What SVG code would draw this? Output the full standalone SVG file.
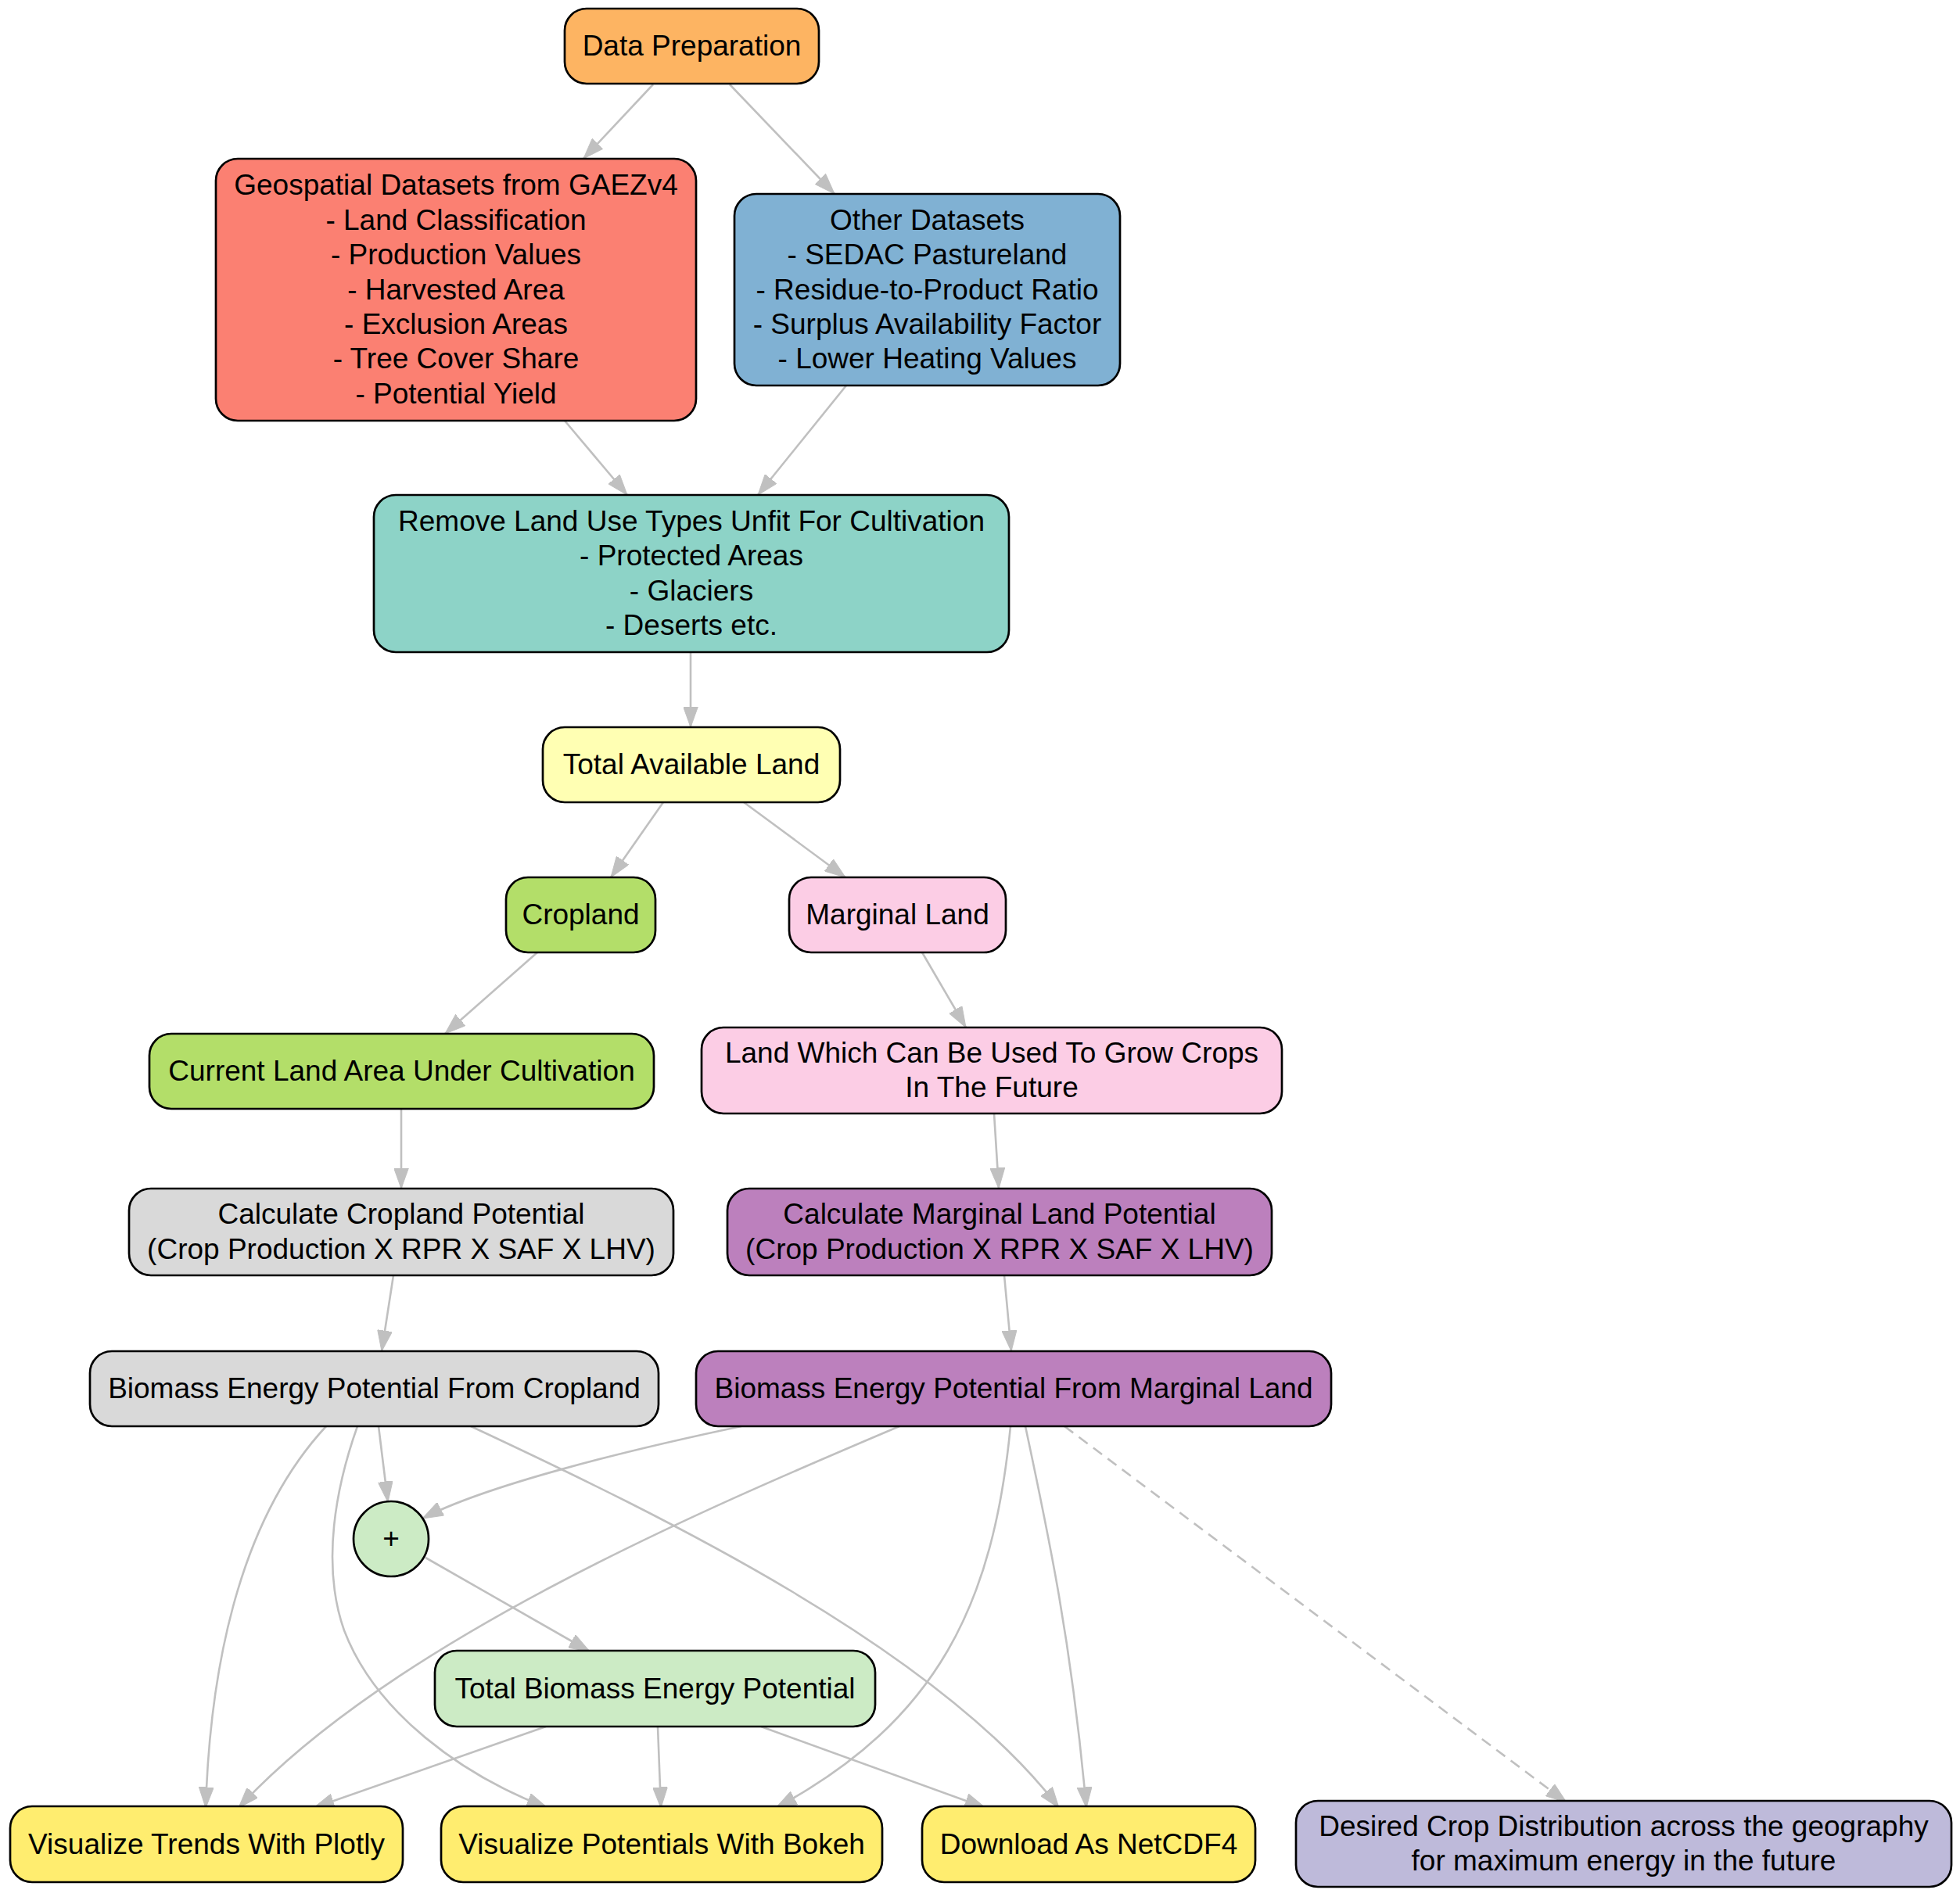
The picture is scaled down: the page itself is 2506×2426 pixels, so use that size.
<svg xmlns="http://www.w3.org/2000/svg" width="2506" height="2426" viewBox="0 0 2506 2426">
<style>
.n{stroke:#000;stroke-width:2.7}
text{font-family:"Liberation Sans",Arial,Helvetica,sans-serif;font-size:37px;fill:#000;text-anchor:middle}
.e{fill:none;stroke:#c0c0c0;stroke-width:2.6;marker-end:url(#ah)}
.d{stroke-dasharray:14,9}
</style>
<defs>
<marker id="ah" markerUnits="userSpaceOnUse" viewBox="0 0 27 19" refX="26.5" refY="9.5" markerWidth="27" markerHeight="19" orient="auto">
<path d="M0,0 L26.5,9.5 L0,19 z" fill="#c0c0c0" stroke="#c0c0c0" stroke-width="1"/>
</marker>
</defs>
<rect width="2506" height="2426" fill="#fff"/>
<g id="edges">
<path class="e" d="M835,108 L746,203"/>
<path class="e" d="M933,108 L1067,248"/>
<path class="e" d="M722,538 L802,633"/>
<path class="e" d="M1082,493 L969,633"/>
<path class="e" d="M883,834 L883,930"/>
<path class="e" d="M848,1026 L781,1122"/>
<path class="e" d="M951,1026 L1081,1122"/>
<path class="e" d="M687,1218 L569,1322"/>
<path class="e" d="M1179,1218 L1235,1314"/>
<path class="e" d="M513,1418 L513,1520"/>
<path class="e" d="M1271,1424 L1277,1520"/>
<path class="e" d="M503,1631 L488,1728"/>
<path class="e" d="M1284,1631 L1293,1728"/>
<path class="e" d="M417,1824 C300,1950 268,2150 263,2312"/>
<path class="e" d="M457,1824 C430,1900 410,2000 440,2085 C480,2190 590,2270 700,2312"/>
<path class="e" d="M484,1824 L496,1921"/>
<path class="e" d="M602,1824 C850,1940 1200,2110 1354,2312"/>
<path class="e" d="M948,1824 C800,1855 620,1900 540,1942"/>
<path class="e" d="M1150,1824 C900,1930 500,2100 305,2312"/>
<path class="e" d="M1292,1824 C1270,2050 1200,2200 992,2312"/>
<path class="e" d="M1311,1824 C1340,1960 1370,2100 1389,2312"/>
<path class="e d" d="M1361,1824 L2003,2305"/>
<path class="e" d="M544,1992 L754,2112"/>
<path class="e" d="M698,2208 L401,2312"/>
<path class="e" d="M841,2208 L845,2312"/>
<path class="e" d="M973,2208 L1260,2312"/>
</g>
<g id="data_preparation">
<rect class="n" x="722" y="11" width="325" height="96" rx="28" fill="#fdb462"/>
<text x="884.5" y="71">Data Preparation</text>
</g>
<g id="geospatial">
<rect class="n" x="276" y="203" width="614" height="335" rx="28" fill="#fb8072"/>
<text x="583" y="249.3">Geospatial Datasets from GAEZv4</text>
<text x="583" y="293.7">- Land Classification</text>
<text x="583" y="338.1">- Production Values</text>
<text x="583" y="382.5">- Harvested Area</text>
<text x="583" y="426.9">- Exclusion Areas</text>
<text x="583" y="471.3">- Tree Cover Share</text>
<text x="583" y="515.7">- Potential Yield</text>
</g>
<g id="other_datasets">
<rect class="n" x="939" y="248" width="493" height="245" rx="28" fill="#80b1d3"/>
<text x="1185.5" y="293.7">Other Datasets</text>
<text x="1185.5" y="338.1">- SEDAC Pastureland</text>
<text x="1185.5" y="382.5">- Residue-to-Product Ratio</text>
<text x="1185.5" y="426.9">- Surplus Availability Factor</text>
<text x="1185.5" y="471.3">- Lower Heating Values</text>
</g>
<g id="remove_land">
<rect class="n" x="478" y="633" width="812" height="201" rx="28" fill="#8dd3c7"/>
<text x="884" y="678.9">Remove Land Use Types Unfit For Cultivation</text>
<text x="884" y="723.3">- Protected Areas</text>
<text x="884" y="767.7">- Glaciers</text>
<text x="884" y="812.1">- Deserts etc.</text>
</g>
<g id="total_available_land">
<rect class="n" x="694" y="930" width="380" height="96" rx="28" fill="#ffffb3"/>
<text x="884" y="990">Total Available Land</text>
</g>
<g id="cropland">
<rect class="n" x="647" y="1122" width="191" height="96" rx="28" fill="#b3de69"/>
<text x="742.5" y="1182">Cropland</text>
</g>
<g id="marginal_land">
<rect class="n" x="1009" y="1122" width="277" height="96" rx="28" fill="#fccde5"/>
<text x="1147.5" y="1182">Marginal Land</text>
</g>
<g id="current_land">
<rect class="n" x="191" y="1322" width="645" height="96" rx="28" fill="#b3de69"/>
<text x="513.5" y="1382">Current Land Area Under Cultivation</text>
</g>
<g id="land_which">
<rect class="n" x="897" y="1314" width="742" height="110" rx="28" fill="#fccde5"/>
<text x="1268" y="1358.8">Land Which Can Be Used To Grow Crops</text>
<text x="1268" y="1403.2">In The Future</text>
</g>
<g id="calc_cropland">
<rect class="n" x="165" y="1520" width="696" height="111" rx="28" fill="#d9d9d9"/>
<text x="513" y="1565.3">Calculate Cropland Potential</text>
<text x="513" y="1609.7">(Crop Production X RPR X SAF X LHV)</text>
</g>
<g id="calc_marginal">
<rect class="n" x="930" y="1520" width="696" height="111" rx="28" fill="#bc80bd"/>
<text x="1278" y="1565.3">Calculate Marginal Land Potential</text>
<text x="1278" y="1609.7">(Crop Production X RPR X SAF X LHV)</text>
</g>
<g id="biomass_cropland">
<rect class="n" x="115" y="1728" width="727" height="96" rx="28" fill="#d9d9d9"/>
<text x="478.5" y="1788">Biomass Energy Potential From Cropland</text>
</g>
<g id="biomass_marginal">
<rect class="n" x="890" y="1728" width="812" height="96" rx="28" fill="#bc80bd"/>
<text x="1296" y="1788">Biomass Energy Potential From Marginal Land</text>
</g>
<g id="plus">
<ellipse class="n" cx="500" cy="1968" rx="48" ry="48" fill="#ccebc5"/>
<text x="500" y="1980">+</text>
</g>
<g id="total_biomass">
<rect class="n" x="556" y="2111" width="563" height="97" rx="28" fill="#ccebc5"/>
<text x="837.5" y="2171.5">Total Biomass Energy Potential</text>
</g>
<g id="visualize_plotly">
<rect class="n" x="13" y="2310" width="502" height="97" rx="28" fill="#ffed6f"/>
<text x="264" y="2370.5">Visualize Trends With Plotly</text>
</g>
<g id="visualize_bokeh">
<rect class="n" x="564" y="2310" width="564" height="97" rx="28" fill="#ffed6f"/>
<text x="846" y="2370.5">Visualize Potentials With Bokeh</text>
</g>
<g id="download_netcdf4">
<rect class="n" x="1179" y="2310" width="426" height="97" rx="28" fill="#ffed6f"/>
<text x="1392" y="2370.5">Download As NetCDF4</text>
</g>
<g id="desired_crop">
<rect class="n" x="1657" y="2303" width="838" height="110" rx="28" fill="#bebada"/>
<text x="2076" y="2347.8">Desired Crop Distribution across the geography</text>
<text x="2076" y="2392.2">for maximum energy in the future</text>
</g>
</svg>
